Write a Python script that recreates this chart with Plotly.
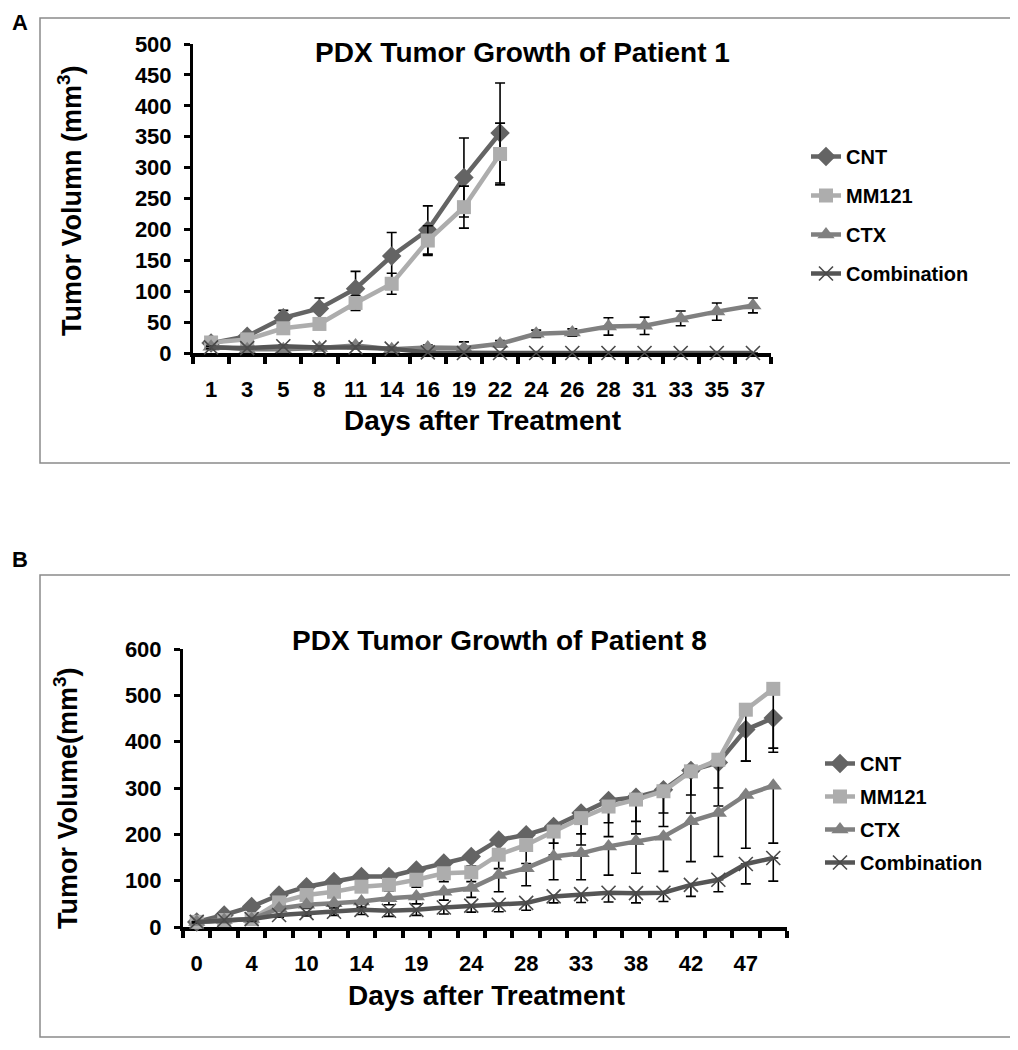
import plotly.graph_objects as go

# ---- Patient 1 (panel A) ----
days_a = ["1", "3", "5", "8", "11", "14", "16", "19", "22", "24", "26", "28", "31", "33", "35", "37"]
cnt_a = [16, 27, 57, 72, 104, 157, 199, 284, 356]
cnt_a_err = [3, 4, 12, 17, 28, 38, 39, 64, 81]
mm121_a = [17, 22, 40, 47, 81, 112, 182, 236, 322]
mm121_a_err = [3, 4, 6, 8, 12, 17, 24, 34, 50]
ctx_a = [10, 6, 6, 8, 12, 6, 9, 8, 15, 31, 33, 43, 44, 56, 67, 77]
ctx_a_err = [2, 2, 2, 3, 4, 3, 4, 10, 5, 6, 6, 14, 14, 12, 14, 12]
comb_a = [9, 8, 11, 9, 9, 7, 1, 0, 0, 0, 0, 0, 0, 0, 0, 0]
comb_a_err = [2, 2, 2, 2, 2, 2, 1, 0, 0, 0, 0, 0, 0, 0, 0, 0]

# ---- Patient 8 (panel B) ----
days_b = ["0", "2", "4", "7", "10", "12", "14", "17", "19", "21", "24",
          "26", "28", "31", "33", "35", "38", "40", "42", "45", "47", "49"]
cnt_b = [11, 26, 44, 69, 87, 98, 109, 109, 123, 138, 152,
         188, 199, 217, 246, 273, 280, 296, 338, 355, 426, 451]
cnt_b_err = [2, 4, 6, 8, 10, 12, 14, 15, 16, 18, 20,
             25, 28, 36, 45, 48, 52, 50, 53, 55, 68, 65]
mm121_b = [11, 15, 17, 53, 69, 76, 87, 91, 102, 116, 118,
           156, 177, 206, 235, 260, 275, 293, 336, 361, 469, 514]
mm121_b_err = [2, 3, 5, 7, 9, 10, 12, 14, 16, 18, 20,
               30, 40, 50, 58, 65, 74, 76, 90, 100, 111, 137]
ctx_b = [11, 15, 17, 40, 48, 51, 55, 62, 66, 76, 84,
         112, 127, 152, 159, 174, 185, 195, 228, 246, 285, 305]
ctx_b_err = [2, 3, 4, 6, 8, 10, 12, 14, 16, 18, 20,
             36, 38, 50, 57, 62, 69, 75, 87, 94, 115, 124]
comb_b = [11, 15, 17, 26, 30, 33, 37, 35, 37, 42, 46,
          48, 52, 66, 71, 74, 73, 74, 91, 102, 136, 149]
comb_b_err = [2, 3, 4, 5, 6, 8, 10, 12, 12, 14, 14,
              15, 16, 14, 18, 20, 21, 19, 25, 26, 43, 50]

series_names = ["CNT", "MM121", "CTX", "Combination"]
colors = ["#646464", "#adadad", "#808080", "#555555"]
symbols = ["diamond", "square", "triangle-up", "x-thin"]
sizes = [15, 14, 15, 14]

# page body adds an 8px offset; the figure is sized so it fills the window
OFF = 8
FW, FH = 1018 - OFF, 1050 - OFF
FONT = "Liberation Sans, Arial, sans-serif"


def px(x):
    return (x - OFF) / FW


def py(y):
    return 1 - (y - OFF) / FH


def err_bars(vals, minus_only):
    if minus_only:
        return dict(type="data", symmetric=False, array=[0] * len(vals), arrayminus=vals,
                    color="black", thickness=1.6, width=5)
    return dict(type="data", array=vals, color="black", thickness=1.6, width=5)


fig = go.Figure()

panels = [
    ("x", "y", "legend", [cnt_a, mm121_a, ctx_a, comb_a],
     [cnt_a_err, mm121_a_err, ctx_a_err, comb_a_err], False),
    ("x2", "y2", "legend2", [cnt_b, mm121_b, ctx_b, comb_b],
     [cnt_b_err, mm121_b_err, ctx_b_err, comb_b_err], True),
]

for xa, ya, leg, vals, errs, minus_only in panels:
    for name, col, sym, sz, v, e in zip(series_names, colors, symbols, sizes, vals, errs):
        if sym == "x-thin":
            marker = dict(symbol=sym, size=sz, color=col, line=dict(width=1.6, color="#4a4a4a"))
        else:
            marker = dict(symbol=sym, size=sz, color=col, line=dict(width=0))
        fig.add_trace(go.Scatter(
            x=list(range(len(v))), y=v, name=name, mode="lines+markers",
            line=dict(color=col, width=4.5), marker=marker,
            error_y=err_bars(e, minus_only), cliponaxis=False,
            xaxis=xa, yaxis=ya, legend=leg, legendgroup=leg + name,
        ))

tick_font = dict(family=FONT, size=22, color="black", weight="bold")
axis_common = dict(showgrid=False, zeroline=False, showline=True, linecolor="black",
                   tickfont=tick_font, layer="below traces", automargin=False)

fig.update_layout(
    width=FW, height=FH,
    margin=dict(l=0, r=0, t=0, b=0, autoexpand=False),
    paper_bgcolor="white", plot_bgcolor="white",
    font=dict(family=FONT, color="black"),
    xaxis=dict(**axis_common, domain=[px(193), px(771)], anchor="y",
               range=[-0.5, len(days_a) - 0.5], linewidth=4,
               tickmode="array", tickvals=list(range(len(days_a))), ticktext=days_a,
               ticks="", ticklabelstandoff=14,
               minor=dict(tickmode="array", tickvals=[i - 0.5 for i in range(len(days_a) + 1)],
                          ticks="outside", ticklen=7, tickwidth=4, tickcolor="black")),
    yaxis=dict(**axis_common, domain=[py(353), py(44)], anchor="x",
               range=[0, 500], dtick=50, linewidth=3,
               ticks="outside", ticklen=6, tickwidth=3, tickcolor="black",
               ticklabelstandoff=8),
    xaxis2=dict(**axis_common, domain=[px(183), px(787)], anchor="y2",
                range=[-0.5, len(days_b) - 0.5], linewidth=4,
                tickmode="array", tickvals=list(range(0, len(days_b), 2)),
                ticktext=days_b[::2], ticks="", ticklabelstandoff=14,
                minor=dict(tickmode="array", tickvals=[i - 0.5 for i in range(len(days_b) + 1)],
                           ticks="outside", ticklen=7, tickwidth=4, tickcolor="black")),
    yaxis2=dict(**axis_common, domain=[py(927), py(649)], anchor="x2",
                range=[0, 600], dtick=100, linewidth=3,
                ticks="outside", ticklen=6, tickwidth=3, tickcolor="black",
                ticklabelstandoff=8),
    legend=dict(x=px(806), y=py(137), xanchor="left", yanchor="top",
                traceorder="grouped", tracegroupgap=10, bgcolor="rgba(0,0,0,0)",
                font=dict(family=FONT, size=20, color="black", weight="bold")),
    legend2=dict(x=px(820), y=py(744), xanchor="left", yanchor="top",
                 traceorder="grouped", tracegroupgap=4, bgcolor="rgba(0,0,0,0)",
                 font=dict(family=FONT, size=20, color="black", weight="bold")),
    shapes=[
        dict(type="rect", xref="paper", yref="paper", x0=px(40), x1=px(1015),
             y0=py(463), y1=py(18), line=dict(color="#8a8a8a", width=1.5)),
        dict(type="rect", xref="paper", yref="paper", x0=px(40), x1=px(1013),
             y0=py(1037), y1=py(575), line=dict(color="#8a8a8a", width=1.5)),
    ],
)

bold = dict(family=FONT, color="black", weight="bold")
texts = [
    ("A", 20, 23, 22, 0),
    ("B", 20, 559, 22, 0),
    ("PDX Tumor Growth of Patient 1", 522, 53, 28, 0),
    ("PDX Tumor Growth of Patient 8", 499, 640, 28, 0),
    ("Days after Treatment", 482, 420, 28, 0),
    ("Days after Treatment", 486, 995, 28, 0),
    ("Tumor Volumn (mm<sup>3</sup>)", 70, 201, 27, -90),
    ("Tumor Volume(mm<sup>3</sup>)", 66, 798, 27, -90),
]
for t, x, y, s, ang in texts:
    fig.add_annotation(text=t, x=px(x), y=py(y), xref="paper", yref="paper",
                       xanchor="center", yanchor="middle", showarrow=False,
                       textangle=ang, font=dict(**bold, size=s))

fig.write_html("out.html")
